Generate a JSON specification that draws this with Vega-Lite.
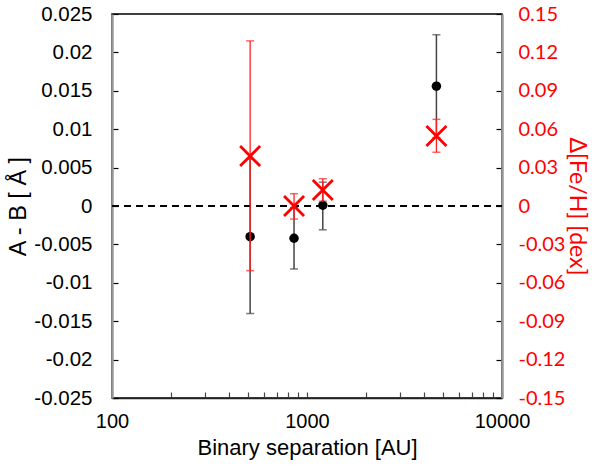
{
  "$schema": "https://vega.github.io/schema/vega-lite/v6.json",
  "width": 390,
  "height": 384,
  "autosize": {"type": "none"},
  "padding": {"left": 112, "top": 14, "right": 90, "bottom": 68},
  "background": "white",
  "config": {
    "view": {"stroke": "black", "strokeWidth": 1.5},
    "axis": {"grid": false, "labelFont": "Liberation Sans", "titleFont": "Liberation Sans", "titleFontWeight": "normal", "labelOverlap": false}
  },
  "data": {
    "values": [
      {"sep": 511, "ab": -0.0040, "abLo": -0.0140, "abHi": 0.0061, "feh": 0.039, "fehLo": -0.0505, "fehHi": 0.129},
      {"sep": 858, "ab": -0.0042, "abLo": -0.0082, "abHi": -0.0002, "feh": 0.0, "fehLo": -0.0102, "fehHi": 0.0096},
      {"sep": 1205, "ab": 0.0001, "abLo": -0.0031, "abHi": 0.0031, "feh": 0.0125, "fehLo": 0.0037, "fehHi": 0.0213},
      {"sep": 4610, "ab": 0.0156, "abLo": 0.0089, "abHi": 0.0223, "feh": 0.0547, "fehLo": 0.042, "fehHi": 0.0677}
    ]
  },
  "encoding": {
    "x": {
      "field": "sep", "type": "quantitative",
      "scale": {"type": "log", "domain": [100, 10000], "nice": false},
      "axis": {
        "title": "Binary separation [AU]",
        "titleFontSize": 22, "titlePadding": 6,
        "values": [100, 200, 300, 400, 500, 600, 700, 800, 900, 1000, 2000, 3000, 4000, 5000, 6000, 7000, 8000, 9000, 10000],
        "tickCount": 40,
        "labelExpr": "(datum.value == 100 || datum.value == 1000 || datum.value == 10000) ? ('' + datum.value) : ''",
        "labelFontSize": 20, "labelColor": "black", "labelPadding": 19,
        "labelOverlap": false, "labelFlush": false,
        "tickSize": -6, "tickColor": "#444", "tickWidth": 1.2,
        "domainColor": "#222", "domainWidth": 1.5
      }
    }
  },
  "layer": [
    {
      "layer": [
        {
          "mark": {"type": "rule", "color": "#444", "strokeWidth": 1.5},
          "encoding": {
            "y": {
              "field": "abLo", "type": "quantitative",
              "scale": {"domain": [-0.025, 0.025], "nice": false, "zero": false},
              "axis": {
                "orient": "left",
                "title": "A - B [ Å ]", "titleFontSize": 23.5, "titleColor": "black", "titlePadding": 3,
                "values": [-0.025, -0.02, -0.015, -0.01, -0.005, 0, 0.005, 0.01, 0.015, 0.02, 0.025],
                "tickCount": 30,
                "labelExpr": "'' + round(datum.value * 1000) / 1000",
                "labelOverlap": false, "labelFlush": false,
                "labelFontSize": 20.5, "labelColor": "black", "labelPadding": 26,
                "tickSize": -6, "tickColor": "black", "tickWidth": 1.2,
                "domainColor": "#999", "domainWidth": 2.5
              }
            },
            "y2": {"field": "abHi"}
          }
        },
        {
          "mark": {"type": "tick", "orient": "horizontal", "color": "#444", "size": 8, "thickness": 1.5},
          "encoding": {"y": {"field": "abLo", "type": "quantitative"}}
        },
        {
          "mark": {"type": "tick", "orient": "horizontal", "color": "#444", "size": 8, "thickness": 1.5},
          "encoding": {"y": {"field": "abHi", "type": "quantitative"}}
        },
        {
          "mark": {"type": "point", "filled": true, "color": "black", "size": 90, "opacity": 1},
          "encoding": {"y": {"field": "ab", "type": "quantitative"}}
        },
        {
          "mark": {"type": "rule", "color": "black", "strokeWidth": 2, "strokeDash": [7, 5]},
          "encoding": {"y": {"datum": 0, "type": "quantitative"}, "x": {"value": 0}, "x2": {"value": 390}}
        }
      ]
    },
    {
      "layer": [
        {
          "mark": {"type": "rule", "color": "#ff2020", "strokeWidth": 1.3},
          "encoding": {
            "y": {
              "field": "fehLo", "type": "quantitative",
              "scale": {"domain": [-0.15, 0.15], "nice": false, "zero": false},
              "axis": {
                "orient": "right",
                "title": "Δ[Fe/H] [dex]", "titleFontSize": 23, "titleColor": "#ff0000", "titleAngle": 90, "titlePadding": 0,
                "titleFont": "Lato",
                "values": [-0.15, -0.12, -0.09, -0.06, -0.03, 0, 0.03, 0.06, 0.09, 0.12, 0.15],
                "tickCount": 30,
                "labelExpr": "'' + round(datum.value * 100) / 100",
                "labelOverlap": false, "labelFlush": false,
                "labelFont": "Lato",
                "labelFontSize": 20, "labelColor": "#ff0000", "labelPadding": 22,
                "tickSize": -6, "tickColor": "black", "tickWidth": 1.2,
                "domainColor": "#999", "domainWidth": 2.5
              }
            },
            "y2": {"field": "fehHi"}
          }
        },
        {
          "mark": {"type": "tick", "orient": "horizontal", "color": "#ff2020", "size": 8, "thickness": 1.5},
          "encoding": {"y": {"field": "fehLo", "type": "quantitative"}}
        },
        {
          "mark": {"type": "tick", "orient": "horizontal", "color": "#ff2020", "size": 8, "thickness": 1.5},
          "encoding": {"y": {"field": "fehHi", "type": "quantitative"}}
        },
        {
          "mark": {"type": "point", "shape": "M-1,-1L1,1M-1,1L1,-1", "filled": false, "color": "#ff0000", "size": 400, "strokeWidth": 2.8, "opacity": 1},
          "encoding": {"y": {"field": "feh", "type": "quantitative"}}
        }
      ]
    }
  ],
  "resolve": {"scale": {"y": "independent"}}
}
